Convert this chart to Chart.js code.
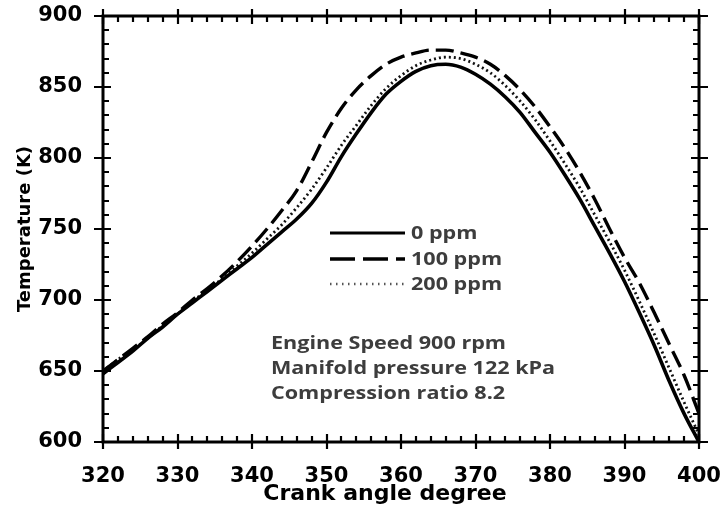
<!DOCTYPE html>
<html>
<head>
<meta charset="utf-8">
<script src="https://cdn.jsdelivr.net/npm/chart.js@4.4.1/dist/chart.umd.min.js"></script>
<style>
  html, body { margin: 0; padding: 0; background: #fff; }
  #wrap { width: 726px; height: 511px; position: relative; }
</style>
</head>
<body>
<div id="wrap"><canvas id="c"></canvas></div>
<script>
// Crank angle (degrees) and in-cylinder temperature (K) for each additive level
const crankAngle = [320, 322, 324, 326, 328, 330, 332, 334, 336, 338, 340, 342, 344, 346, 348, 350, 352, 354, 356, 358, 360,
                    362, 364, 366, 368, 370, 372, 374, 376, 378, 380, 382, 384, 386, 388, 390, 392, 394, 396, 398, 400];
const temp0ppm   = [648, 656, 664, 673, 681, 690, 698, 706, 714, 722, 730, 739, 748, 757, 768, 783, 801, 817, 832, 845, 854,
                    861, 865, 866, 864, 859, 852, 843, 832, 818, 804, 788, 771, 752, 733, 713, 691, 668, 643, 620, 600];
const temp100ppm = [650, 658, 666, 674, 683, 691, 700, 708, 717, 727, 738, 750, 763, 777, 797, 818, 835, 848, 858, 866, 871,
                    874, 876, 876, 874, 871, 866, 858, 848, 836, 822, 807, 790, 771, 750, 730, 712, 691, 669, 647, 620];
const temp200ppm = [650, 658, 665, 673, 682, 690, 699, 707, 715, 724, 733, 743, 753, 765, 778, 793, 809, 823, 837, 849, 858,
                    865, 869, 871, 870, 866, 860, 851, 840, 827, 812, 796, 779, 760, 741, 721, 699, 676, 652, 628, 605];

const seriesLabels = ['0 ppm', '100 ppm', '200 ppm'];
const noteLines = ['Engine Speed 900 rpm', 'Manifold pressure 122 kPa', 'Compression ratio 8.2'];
const xTitle = 'Crank angle degree';
const yTitle = 'Temperature (K)';

const xTickStep = 10, xMinorStep = 2;
const yTickStep = 50, yMinorStep = 10;

const toPoints = (ys) => crankAngle.map((a, i) => ({ x: a, y: ys[i] }));

const TICK_FONT = { family: '"DejaVu Sans"', weight: 'bold', size: 21 };
const NOTE_FONT = '700 18px "Open Sans"';
const NOTE_COLOR = '#3d3d3d';

// Closed frame with inward minor ticks and crossing major ticks on all four sides
const framePlugin = {
  id: 'frame',
  afterDatasetsDraw(chart) {
    const { ctx, chartArea: a, scales: { x, y } } = chart;
    ctx.save();
    ctx.strokeStyle = '#000';
    ctx.lineCap = 'butt';
    ctx.lineWidth = 3;
    ctx.strokeRect(a.left, a.top, a.right - a.left, a.bottom - a.top);
    ctx.lineWidth = 2.2;
    ctx.beginPath();
    for (let v = x.min; v <= x.max + 1e-6; v += xMinorStep) {
      const px = Math.round(x.getPixelForValue(v));
      const major = Math.abs(v % xTickStep) < 1e-6;
      const inLen = major ? 8 : 6, outLen = major ? 7 : 0;
      ctx.moveTo(px, a.bottom + outLen); ctx.lineTo(px, a.bottom - inLen);
      ctx.moveTo(px, a.top - outLen); ctx.lineTo(px, a.top + inLen);
    }
    for (let v = y.min; v <= y.max + 1e-6; v += yMinorStep) {
      const py = Math.round(y.getPixelForValue(v));
      const major = Math.abs(v % yTickStep) < 1e-6;
      const inLen = major ? 8 : 6, outLen = major ? 9 : 0;
      ctx.moveTo(a.left - outLen, py); ctx.lineTo(a.left + inLen, py);
      ctx.moveTo(a.right + outLen, py); ctx.lineTo(a.right - inLen, py);
    }
    ctx.stroke();

    // horizontal axis title, set a little left of the axis centre
    ctx.fillStyle = '#000';
    ctx.font = 'bold 22px "DejaVu Sans"';
    ctx.textAlign = 'center';
    ctx.textBaseline = 'middle';
    ctx.fillText(xTitle, 385, 494);
    ctx.restore();
  }
};

// Legend with line samples and the engine condition notes inside the plot
const notesPlugin = {
  id: 'notes',
  afterDraw(chart) {
    const { ctx } = chart;
    ctx.save();
    ctx.font = NOTE_FONT;
    ctx.fillStyle = NOTE_COLOR;
    ctx.textBaseline = 'middle';
    const stretch = 235 / ctx.measureText(noteLines[0]).width;
    const drawText = (t, tx, ty) => {
      ctx.save();
      ctx.translate(tx, ty);
      ctx.scale(stretch, 1);
      ctx.fillText(t, 0, 0);
      ctx.restore();
    };
    const legendY = [233, 259, 284];
    chart.data.datasets.forEach((ds, i) => {
      ctx.save();
      ctx.strokeStyle = ds.legendColor || ds.borderColor;
      ctx.lineWidth = ds.legendWidth || ds.borderWidth;
      ctx.setLineDash(ds.legendDash || ds.borderDash || []);
      ctx.beginPath();
      ctx.moveTo(330, legendY[i]);
      ctx.lineTo(405, legendY[i]);
      ctx.stroke();
      ctx.restore();
      drawText(ds.label, 411, legendY[i] + 1);
    });
    const noteY = [344, 369, 394];
    noteLines.forEach((t, i) => drawText(t, 271, noteY[i]));
    ctx.restore();
  }
};

new Chart(document.getElementById('c'), {
  type: 'line',
  data: {
    datasets: [
      { label: seriesLabels[0], data: toPoints(temp0ppm), borderColor: '#000', borderWidth: 3.6,
        borderDash: [], legendWidth: 3 },
      { label: seriesLabels[1], data: toPoints(temp100ppm), borderColor: '#000', borderWidth: 3.4,
        borderDash: [18, 7], legendDash: [25, 8], legendWidth: 3.5 },
      { label: seriesLabels[2], data: toPoints(temp200ppm), borderColor: '#111', borderWidth: 2.8,
        borderDash: [2, 3], legendDash: [1.5, 4.5], legendWidth: 2.5, legendColor: '#555' }
    ]
  },
  options: {
    responsive: true,
    maintainAspectRatio: false,
    animation: false,
    devicePixelRatio: 1,
    layout: { padding: { left: 0, top: 16, right: 27, bottom: 0 } },
    elements: {
      point: { radius: 0, hoverRadius: 0 },
      line: { cubicInterpolationMode: 'monotone', borderCapStyle: 'butt', fill: false }
    },
    plugins: { legend: { display: false }, tooltip: { enabled: false } },
    scales: {
      x: {
        type: 'linear', min: 320, max: 400,
        grid: { display: false }, border: { display: false },
        ticks: { stepSize: xTickStep, color: '#000', font: TICK_FONT, padding: 14, maxRotation: 0 },
        title: { display: false },
        afterFit(s) { s.height = 69; s.paddingLeft = 0; s.paddingRight = 0; }
      },
      y: {
        type: 'linear', min: 600, max: 900,
        grid: { display: false }, border: { display: false },
        ticks: { stepSize: yTickStep, color: '#000', font: TICK_FONT, padding: 13 },
        title: { display: true, text: yTitle, color: '#000',
                 font: { family: '"DejaVu Sans"', weight: 'bold', size: 18 }, padding: { top: 15, bottom: 0 } },
        afterFit(s) { s.width = 103; s.paddingTop = 0; s.paddingBottom = 0; }
      }
    }
  },
  plugins: [framePlugin, notesPlugin]
});
</script>
</body>
</html>
